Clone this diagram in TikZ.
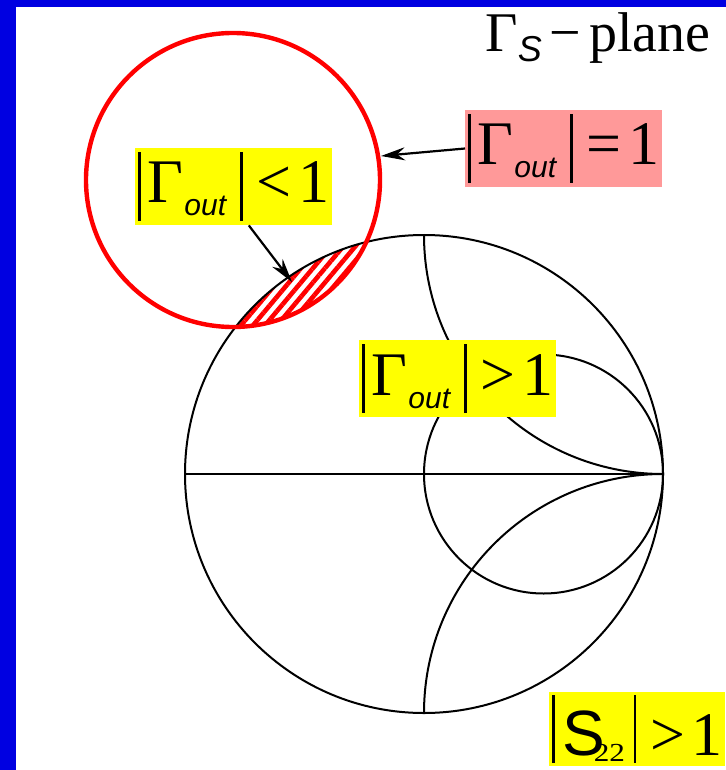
\documentclass[tikz,border=0pt]{standalone}
\usepackage{fontspec}
\setmainfont{Liberation Serif}
\setsansfont{Liberation Sans}
\usetikzlibrary{arrows.meta,patterns.meta}

\definecolor{frameblue}{RGB}{0,0,225}
\definecolor{hlyellow}{RGB}{255,255,0}
\definecolor{hlpink}{RGB}{255,153,153}
\definecolor{ringred}{RGB}{255,0,0}

% tall magnitude bars and the small "out" subscript
\newcommand{\magbar}{\rule[-9pt]{1.2pt}{34.5pt}}
\newcommand{\outsub}{\raisebox{-6.5pt}{\fontsize{15}{15}\selectfont\sffamily\itshape out}}
\newcommand{\gmag}[1]{\magbar\hspace{3.4pt}Γ\hspace{0.5pt}\outsub\hspace{7pt}\magbar\hspace{6.9pt}#1\hspace{3.5pt}1\hspace{-2pt}}

\begin{document}
\begin{tikzpicture}[x=0.5pt, y=-0.5pt,
  lbl/.style={anchor=base west, inner xsep=1.5pt, inner ysep=2pt, font=\fontsize{31}{36}\selectfont},
  chart/.style={draw=black, line width=1pt},
  ring/.style={draw=ringred, line width=2.2pt},
  ptr/.style={-{Stealth[length=12pt,width=6.5pt]}, line width=1.1pt},
]
\useasboundingbox (0,0) rectangle (726,770);
\fill[frameblue] (0,0) rectangle (16,770);
\fill[frameblue] (0,0) rectangle (726,7);

\coordinate (o) at (424,474);    % chart centre
\coordinate (rc) at (233,180);   % stability circle centre

% hatched stable region
\begin{scope}
  \clip (o) circle[radius=119.5pt];
  \fill[pattern={Lines[angle=50,distance=4.6pt,line width=2.3pt]}, pattern color=ringred]
    (rc) circle[radius=73.5pt];
\end{scope}

% Smith chart
\draw[chart] (o) circle[radius=119.5pt];
\draw[chart] (185,474) -- (663,474);
\draw[chart] (543.5,474) circle[radius=59.75pt];
\begin{scope}
  \clip (o) circle[radius=119.5pt];
  \draw[chart] (663,235) circle[radius=119.5pt];
  \draw[chart] (663,713) circle[radius=119.5pt];
\end{scope}

% stability circle
\draw[ring] (rc) circle[radius=73.5pt];
\coordinate (hit) at (381,156);
\coordinate (stab) at (292,282);

\node[anchor=base west, inner sep=0pt, font=\fontsize{28}{32}\selectfont] (plane) at (485,52)
  {Γ\raisebox{-5pt}{\fontsize{18}{18}\selectfont\sffamily\itshape S}\hspace{4pt}−\hspace{4pt}plane};

\node[lbl, fill=hlpink] (eq) at (465,165) {\gmag{=}};
\node[lbl, fill=hlyellow] (lt) at (135,203) {\gmag{<}};
\node[lbl, fill=hlyellow] (gt) at (359,395) {\gmag{>}};
\node[lbl, fill=hlyellow, inner ysep=1.5pt] (s22) at (549,755)
  {\rule[-4pt]{1.2pt}{34pt}\hspace{3.7pt}{\fontsize{32}{36}\selectfont\sffamily S}\hspace{-5.5pt}\raisebox{-3pt}{\scalebox{1.2}[1]{\fontsize{13}{13}\selectfont 22}}\hspace{4.5pt}\rule[-4pt]{1.2pt}{34pt}\hspace{6.9pt}>\hspace{3pt}1\hspace{-1pt}};

\draw[ptr] (eq.west) -- (hit);
\draw[ptr] (lt.-69) -- (stab);
\end{tikzpicture}
\end{document}
